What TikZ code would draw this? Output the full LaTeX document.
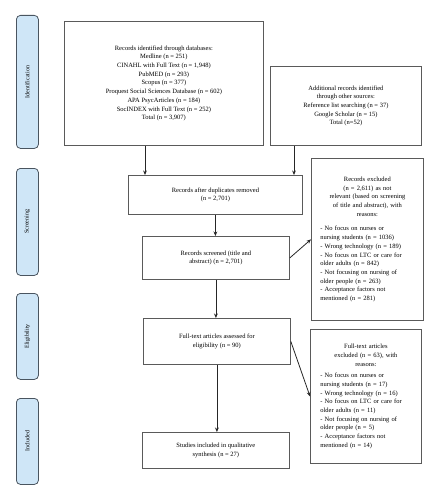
\documentclass[tikz,border=0pt]{standalone}
\usepackage{fontspec}
\setmainfont{Liberation Serif}
\usetikzlibrary{arrows.meta,calc}
\definecolor{boxgray}{HTML}{5A5A5A}
\definecolor{sidegray}{HTML}{4A5560}
\definecolor{sideblue}{HTML}{CFE6F7}
\newcommand\dgfont{\fontsize{6.5}{8.7}\selectfont}
\newcommand\sidefont{\fontsize{6}{7}\selectfont}
\begin{document}
\begin{tikzpicture}[x=1pt,y=-1pt,
 box/.style={draw=boxgray, line width=0.8pt, inner sep=0pt, anchor=north west, font=\dgfont, align=center},
 exbox/.style={draw=boxgray, line width=0.8pt, inner ysep=0pt, anchor=north west, font=\dgfont, align=left},
 side/.style={draw=sidegray, fill=sideblue, rounded corners=4pt, line width=0.8pt, anchor=north west, minimum width=22pt, inner sep=0pt, font=\sidefont},
 arr/.style={draw=black!85, line width=0.8pt, -{Stealth[length=4.5pt,width=3.8pt]}}]
\useasboundingbox (0,0) rectangle (438,500);

% side labels
\node[side, minimum height=133pt] (sid) at (16,15) {\rotatebox{90}{Identification}};
\node[side, minimum height=107pt] (sscr) at (16,168) {\rotatebox{90}{Screening}};
\node[side, minimum height=86pt] (selig) at (16,293) {\rotatebox{90}{Eligibility}};
\node[side, minimum height=86pt] (sinc) at (16,398) {\rotatebox{90}{Included}};

% boxes
\node[box, minimum width=199pt, minimum height=124pt] (db) at (64,21)
 {Records identified through databases:\\ Medline (n = 251)\\ CINAHL with Full Text (n = 1,948)\\ PubMED (n = 293)\\ Scopus (n = 377)\\ Proquest Social Sciences Database (n = 602)\\ APA PsycArticles (n = 184)\\ SocINDEX with Full Text (n = 252)\\ Total (n = 3,907)};
\node[box, minimum width=151pt, minimum height=79pt] (add) at (270,66)
 {Additional records identified\\ through other sources:\\ Reference list searching (n = 37)\\ Google Scholar (n = 15)\\ Total (n=52)};
\node[box, minimum width=174pt, minimum height=39pt] (dup) at (128,175)
 {Records after duplicates removed\\ (n = 2,701)};
\node[box, minimum width=147pt, minimum height=43pt] (scr) at (142,236)
 {Records screened (title and\\ abstract) (n = 2,701)};
\node[box, minimum width=147pt, minimum height=46pt] (ft) at (143,318)
 {Full-text articles assessed for\\ eligibility (n = 90)};
\node[box, minimum width=147pt, minimum height=36pt] (study) at (142,432)
 {Studies included in qualitative\\ synthesis (n = 27)};

\node[exbox, inner xsep=9pt, text width=94pt, minimum height=162pt] (excl) at (311,158)
 {{\centering Records excluded\\ (n = 2,611) as not\\ relevant (based on screening\\ of title and abstract), with\\ reasons:\par}\vspace{6pt}%
 - No focus on nurses or\\ nursing students (n = 1036)\\ - Wrong technology (n = 189)\\ - No focus on LTC or care for\\ older adults (n = 842)\\ - Not focusing on nursing of\\ older people (n = 263)\\ - Acceptance factors not\\ mentioned (n = 281)};
\node[exbox, inner xsep=10pt, text width=91pt, minimum height=134pt] (fte) at (310,329)
 {{\centering Full-text articles\\ excluded (n = 63), with\\ reasons:\par}\vspace{3pt}%
 - No focus on nurses or\\ nursing students (n = 17)\\ - Wrong technology (n = 16)\\ - No focus on LTC or care for\\ older adults (n = 11)\\ - Not focusing on nursing of\\ older people (n = 5)\\ - Acceptance factors not\\ mentioned (n = 14)};

% arrows
\draw[arr] ([xshift=81pt]db.south west) -- ([xshift=81pt]db.south west |- dup.north);
\draw[arr] ([xshift=24pt]add.south west) -- ([xshift=24pt]add.south west |- dup.north);
\draw[arr] (dup.south) -- (dup.south |- scr.north);
\draw[arr] (scr.south) -- (scr.south |- ft.north);
\draw[arr] (ft.south) -- (ft.south |- study.north);
\draw[arr] (scr.east) -- (excl.west);
\draw[arr] (ft.east) -- (fte.west);
\end{tikzpicture}
\end{document}
